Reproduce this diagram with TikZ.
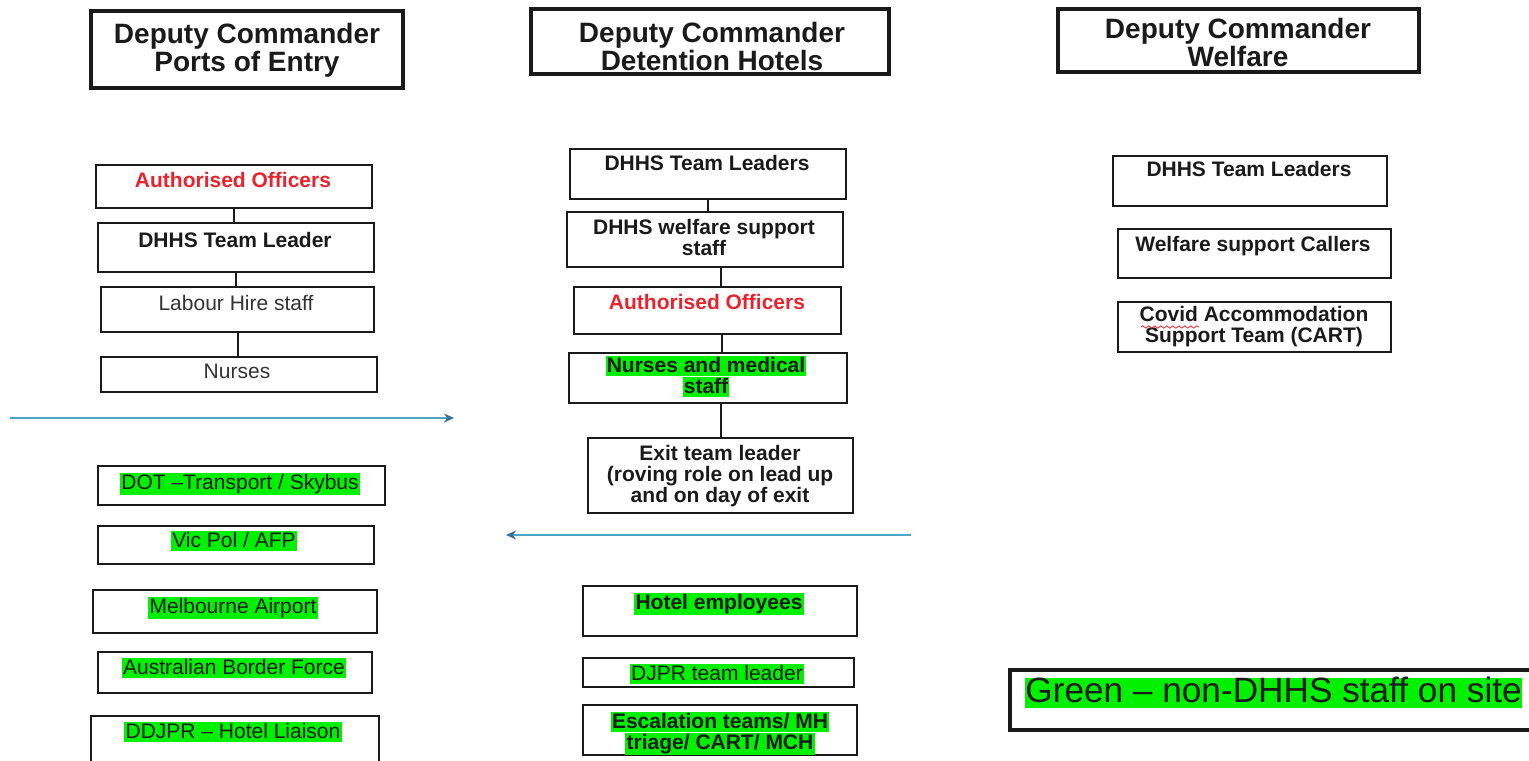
\documentclass[tikz,border=0pt]{standalone}
\usepackage{fontspec}
\setmainfont{Liberation Sans}
\usepackage{tikz}
\usetikzlibrary{fit,arrows.meta,decorations.pathmorphing}
\definecolor{ink}{HTML}{1A1A1A}
\definecolor{alert}{HTML}{E8232B}
\definecolor{soft}{HTML}{333333}
\definecolor{hilite}{HTML}{00F000}
\definecolor{flowblue}{HTML}{4AA6C4}
\definecolor{tipblue}{HTML}{3A6F9A}
\newcommand{\greenmark}[1]{{\setlength{\fboxsep}{0.6pt}\colorbox{hilite}{\rule[-1.6pt]{0pt}{9pt}#1}}}
\newcommand{\tightlines}{\lineskiplimit=-10pt\relax}
\tikzset{
  head/.style={draw=ink, line width=1.6pt, inner sep=0pt},
  box/.style={draw=ink, line width=1pt, inner sep=0pt},
  htext/.style={text=ink, font=\fontsize{14}{13.6}\selectfont\bfseries, align=center, anchor=base, inner sep=0pt},
  lab/.style={text=ink, font=\fontsize{10.5}{10.5}\selectfont\bfseries\tightlines, align=center, anchor=base, inner sep=0pt},
  labr/.style={lab, text=alert},
  labm/.style={lab, text=soft, font=\fontsize{10.5}{10.5}\selectfont},
  labg/.style={lab, font=\fontsize{10.5}{10.5}\selectfont},
  link/.style={draw=ink, line width=1pt},
  flow/.style={draw=flowblue, line width=1pt, -{Stealth[length=5pt,width=4.5pt,color=tipblue]}},
  squig/.style={draw=alert, line width=0.4pt, decorate, decoration={snake, amplitude=0.6pt, segment length=3pt}},
}

\begin{document}
\begin{tikzpicture}[x=0.5pt, y=-0.5pt]
  \useasboundingbox (0,0) rectangle (1529,760);

  % deputy commanders (multi-line text sits on its last baseline)
  \node[head, fit={(91,11) (403,88)}] (poe) {};
  \node[htext] (poet) at (247,71) {Deputy Commander\\Ports of Entry};
  \node[head, fit={(531,9) (889,74)}] (det) {};
  \node[htext] (dett) at (712,70) {Deputy Commander\\Detention Hotels};
  \node[head, fit={(1058,9) (1419,72)}] (wel) {};
  \node[htext] (welt) at (1238,66) {Deputy Commander\\Welfare};

  % ports of entry, DHHS side
  \node[box, fit={(96,165) (372,208)}] (p1) {};
  \node[labr] (p1t) at (233,187) {Authorised Officers};
  \node[box, fit={(98,223) (374,272)}] (p2) {};
  \node[lab] (p2t) at (235,247) {DHHS Team Leader};
  \node[box, fit={(101,287) (374,332)}] (p3) {};
  \node[labm] (p3t) at (236,310) {Labour Hire staff};
  \node[box, fit={(101,357) (377,392)}] (p4) {};
  \node[labm] (p4t) at (237,378) {Nurses};
  \draw[link] (p1.south) -- (p1.south |- p2.north);
  \draw[link] (p2.south) -- (p2.south |- p3.north);
  \draw[link] (p3.south) -- (p3.south |- p4.north);

  \coordinate (f1a) at (10,418);
  \coordinate (f1b) at (454,418);
  \draw[flow] (f1a) -- (f1b);

  % ports of entry, other agencies
  \node[box, fit={(98,466) (385,505)}] (p5) {};
  \node[labg] (p5t) at (240,489) {\greenmark{DOT –Transport / Skybus}};
  \node[box, fit={(98,526) (374,564)}] (p6) {};
  \node[labg] (p6t) at (234,547) {\greenmark{Vic Pol / AFP}};
  \node[box, fit={(93,590) (377,633)}] (p7) {};
  \node[labg] (p7t) at (233,613) {\greenmark{Melbourne Airport}};
  \node[box, fit={(98,652) (372,693)}] (p8) {};
  \node[labg] (p8t) at (234,674) {\greenmark{Australian Border Force}};
  \node[box, fit={(91,716) (379,790)}] (p9) {};
  \node[labg] (p9t) at (233,738) {\greenmark{DDJPR – Hotel Liaison}};

  % detention hotels
  \node[box, fit={(570,149) (846,199)}] (h1) {};
  \node[lab] (h1t) at (707,170) {DHHS Team Leaders};
  \node[box, fit={(567,212) (843,267)}] (h2) {};
  \node[lab] (h2t) at (704,255) {DHHS welfare support\\staff};
  \node[box, fit={(574,287) (841,334)}] (h3) {};
  \node[labr] (h3t) at (707,309) {Authorised Officers};
  \node[box, fit={(569,353) (847,403)}] (h4) {};
  \node[lab] (h4t) at (706,393) {\greenmark{Nurses and medical}\\\greenmark{staff}};
  \node[box, fit={(588,438) (853,513)}] (h5) {};
  \node[lab] (h5t) at (720,502) {Exit team leader\\(roving role on lead up\\and on day of exit};
  \draw[link] (h1.south) -- (h1.south |- h2.north);
  \draw[link] ([xshift=8]h2.south) -- ([xshift=8]h2.south |- h3.north);
  \draw[link] ([xshift=7]h3.south) -- ([xshift=7]h3.south |- h4.north);
  \draw[link] (h4.south -| h5.north) -- (h5.north);

  \coordinate (f2a) at (911,535);
  \coordinate (f2b) at (506,535);
  \draw[flow] (f2a) -- (f2b);

  \node[box, fit={(583,586) (857,636)}] (h6) {};
  \node[lab] (h6t) at (719,609) {\greenmark{Hotel employees}};
  \node[box, fit={(583,658) (854,687)}] (h7) {};
  \node[labg] (h7t) at (717,680) {\greenmark{DJPR team leader}};
  \node[box, fit={(583,705) (857,755)}] (h8) {};
  \node[lab] (h8t) at (720,749) {\greenmark{Escalation teams/ MH}\\\greenmark{triage/ CART/ MCH}};

  % welfare
  \node[box, fit={(1113,156) (1387,206)}] (w1) {};
  \node[lab] (w1t) at (1249,176) {DHHS Team Leaders};
  \node[box, fit={(1118,229) (1391,278)}] (w2) {};
  \node[lab] (w2t) at (1253,251) {Welfare support Callers};
  \node[box, fit={(1118,302) (1391,352)}] (w3) {};
  \node[lab] (w3t) at (1254,342) {Covid Accommodation\\Support Team (CART)};
  \draw[squig] (1141,327) -- (1199,327);

  % key
  \node[head, fit={(1010,670) (1560,730)}] (key) {};
  \node[text=ink, fill=hilite, font=\fontsize{17.6}{17.6}\selectfont, anchor=base west, inner sep=0pt, text height=12pt, text depth=3pt] (keyt) at (1025,702) {Green – non-DHHS staff on site};
\end{tikzpicture}
\end{document}
